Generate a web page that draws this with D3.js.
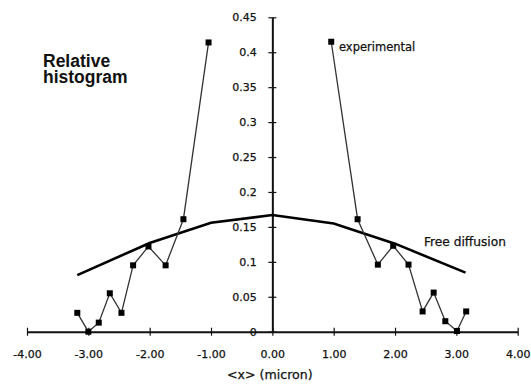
<!DOCTYPE html>
<html>
<head>
<meta charset="utf-8">
<script src="https://cdn.jsdelivr.net/npm/d3@7"></script>
<style>
  body { margin: 0; background: #fff; }
  svg { display: block; }
  .tick text { font-family: "DejaVu Sans", sans-serif; font-size: 11px; fill: #111; stroke: #111; stroke-width: 0.25; }
  .lbl { font-family: "DejaVu Sans", sans-serif; fill: #111; stroke: #111; stroke-width: 0.25; }
</style>
</head>
<body>
<div id="chart"></div>
<script>
// experimental histogram, left and right branches
const expLeftX = [-3.18, -3.0, -2.83, -2.65, -2.46, -2.27, -2.02, -1.74, -1.45, -1.04];
const expLeftY = [0.027, 0.0, 0.013, 0.055, 0.027, 0.095, 0.122, 0.095, 0.161, 0.414];
const expRightX = [0.96, 1.39, 1.72, 1.97, 2.22, 2.45, 2.63, 2.82, 3.01, 3.16];
const expRightY = [0.415, 0.161, 0.096, 0.123, 0.096, 0.029, 0.056, 0.015, 0.001, 0.029];

// free diffusion curve
const freeX = [-3.18, -2, -1, 0, 1, 2, 3.15];
const freeY = [0.081, 0.127, 0.156, 0.167, 0.155, 0.126, 0.0845];

const xTicks = [-4, -3, -2, -1, 0, 1, 2, 3, 4];
const yTicks = [0, 0.05, 0.1, 0.15, 0.2, 0.25, 0.3, 0.35, 0.4, 0.45];

const width = 531, height = 385;

const x = d3.scaleLinear().domain([-4, 4]).range([27, 517.7]);
const y = d3.scaleLinear().domain([0, 0.45]).range([331.7, 17.3]);

const svg = d3.select('#chart')
  .append('svg')
  .attr('width', width)
  .attr('height', height);

const zip = (xs, ys) => xs.map((v, i) => [v, ys[i]]);

// x axis
const xAxis = svg.append('g')
  .attr('transform', `translate(0,${y(0)})`)
  .call(d3.axisBottom(x).tickValues(xTicks).tickFormat(d => d.toFixed(2)).tickSizeOuter(0).tickSizeInner(4));
xAxis.select('.domain').attr('stroke', '#111').attr('stroke-width', 2);
xAxis.selectAll('.tick line').attr('y1', -4).attr('y2', 4).attr('stroke', '#111').attr('stroke-width', 1.2);
xAxis.selectAll('.tick text').attr('y', 19);

// y axis along x = 0
const yAxis = svg.append('g')
  .attr('transform', `translate(${x(0)},0)`)
  .call(d3.axisLeft(y).tickValues(yTicks).tickFormat(d => String(+d.toFixed(2))).tickSizeOuter(0).tickSizeInner(4));
yAxis.select('.domain').attr('stroke', '#111').attr('stroke-width', 2);
yAxis.selectAll('.tick line').attr('x1', -4).attr('x2', 4).attr('stroke', '#111').attr('stroke-width', 1.2);
yAxis.selectAll('.tick text').attr('x', -15.5);

const line = d3.line().x(d => x(d[0])).y(d => y(d[1]));

// free diffusion
svg.append('path')
  .datum(zip(freeX, freeY))
  .attr('d', line)
  .attr('fill', 'none')
  .attr('stroke', '#000')
  .attr('stroke-width', 2.6);

// experimental
[zip(expLeftX, expLeftY), zip(expRightX, expRightY)].forEach(pts => {
  svg.append('path')
    .datum(pts)
    .attr('d', line)
    .attr('fill', 'none')
    .attr('stroke', '#333')
    .attr('stroke-width', 1.3);
  svg.selectAll(null)
    .data(pts)
    .enter()
    .append('rect')
    .attr('x', d => x(d[0]) - 3)
    .attr('y', d => y(d[1]) - 3)
    .attr('width', 6)
    .attr('height', 6)
    .attr('fill', '#000');
});

// labels
svg.append('text')
  .attr('class', 'lbl')
  .attr('x', 339)
  .attr('y', 51)
  .attr('font-size', 11.5)
  .text('experimental');

svg.append('text')
  .attr('class', 'lbl')
  .attr('x', 424)
  .attr('y', 245.5)
  .attr('font-size', 12.2)
  .text('Free diffusion');

svg.append('text')
  .attr('class', 'lbl')
  .attr('x', 227)
  .attr('y', 378.5)
  .attr('font-size', 12.6)
  .text('<x> (micron)');

const titleFont = 'Liberation Sans, Arial, sans-serif';
svg.append('text')
  .attr('x', 43).attr('y', 66.5)
  .attr('font-family', titleFont).attr('font-weight', 'bold').attr('font-size', 17.5)
  .attr('fill', '#111')
  .text('Relative');
svg.append('text')
  .attr('x', 43).attr('y', 83)
  .attr('font-family', titleFont).attr('font-weight', 'bold').attr('font-size', 17.5)
  .attr('fill', '#111')
  .text('histogram');
</script>
</body>
</html>
